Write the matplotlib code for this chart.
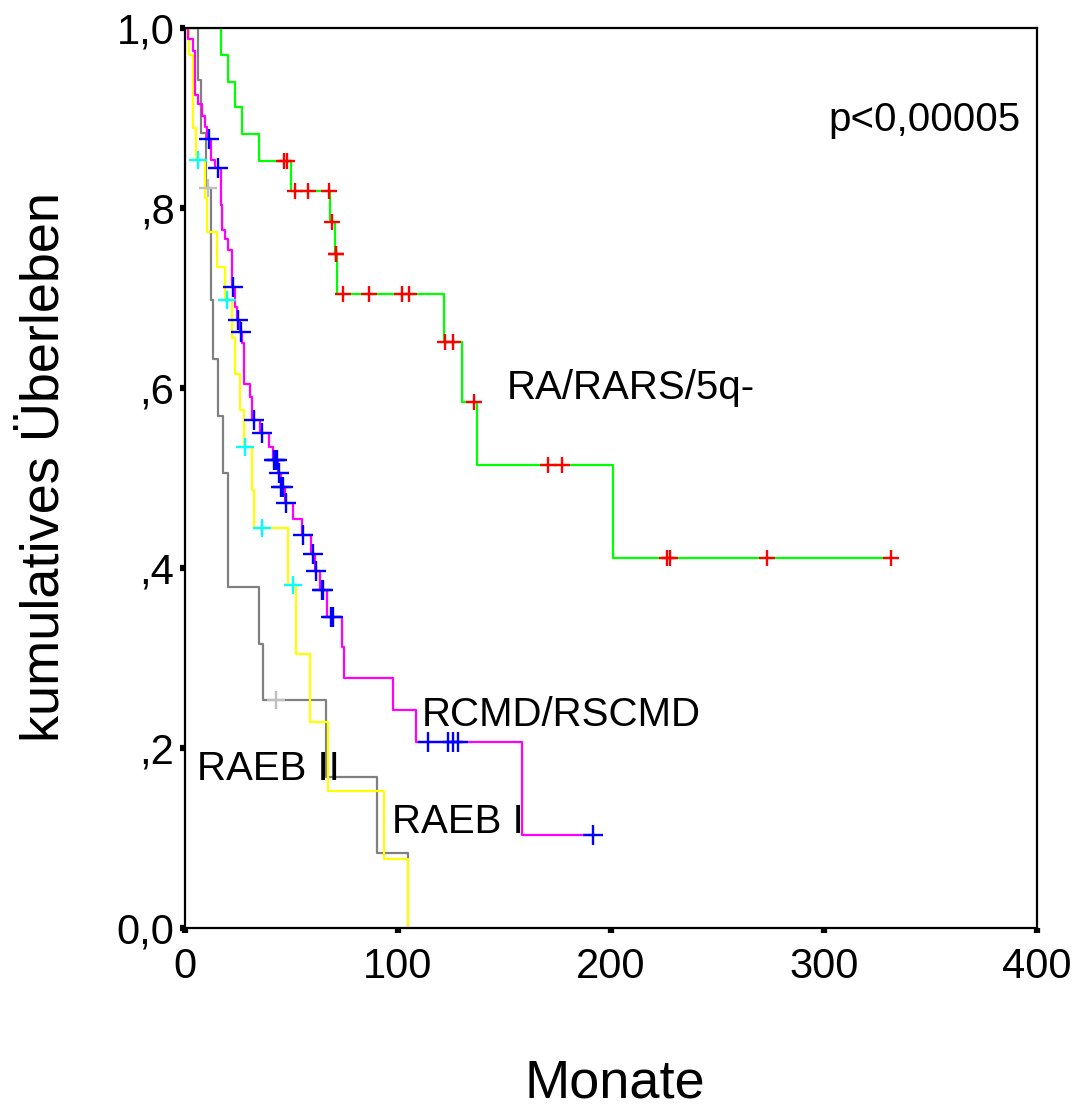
import matplotlib
matplotlib.use('Agg')
import matplotlib.pyplot as plt
import numpy as np

plt.rcParams['font.family'] = ['Liberation Sans', 'DejaVu Sans']

# ---------------------------------------------------------------------------
# Data: step times in months, survival after
# each step, and censoring times
# ---------------------------------------------------------------------------

# RA/RARS/5q-
ra_times = [0, 16.8, 20.3, 23.5, 26.9, 34.9, 49.8, 68.1, 70.4, 71.5,
            121.5, 130.0, 137.0, 200.8]
ra_surv = [1.0, 0.970, 0.940, 0.912, 0.882, 0.8526, 0.819, 0.785, 0.7485,
           0.705, 0.6515, 0.5848, 0.515, 0.4115]
ra_cens = [46.5, 48.0, 51.6, 57.9, 67.8, 68.9, 70.7, 71.0, 74.0, 86.5,
           101.7, 105.3, 122.3, 126.0, 135.7, 170.6, 177.1, 226.1, 227.7,
           273.1, 331.5]

# RCMD/RSCMD
rc_times = [0, 1.6, 3.9, 4.7, 6.3, 7.8, 9.4, 10.2, 12.0, 14.1, 16.8, 17.2,
            18.8, 20.0, 22.2, 23.5, 24.5, 26.0, 26.8, 27.7, 30.5, 31.6, 35.0,
            39.6, 41.5, 43.5, 45.0, 46.8, 50.9, 55.0, 59.0, 61.0, 63.5, 66.5,
            73.9, 74.8, 97.8, 108.5, 158.4]
rc_surv = [1.0, 0.988, 0.974, 0.926, 0.916, 0.902, 0.890, 0.877, 0.853,
           0.845, 0.803, 0.7756, 0.766, 0.753, 0.7125, 0.69, 0.676, 0.662,
           0.650, 0.605, 0.59, 0.564, 0.55, 0.535, 0.52, 0.506, 0.49, 0.472,
           0.455, 0.437, 0.416, 0.397, 0.3755, 0.346, 0.3126, 0.2774, 0.242,
           0.2063, 0.103]
rc_cens = [11.5, 15.6, 22.6, 25.0, 26.4, 32.4, 36.0, 41.8, 42.3, 43.0, 44.1,
           45.3, 45.8, 47.4, 55.5, 60.2, 61.3, 64.3, 64.9, 68.5, 69.3, 113.9,
           123.3, 125.7, 128.3, 191.7]

# RAEB I
r1_times = [0, 2.0, 3.9, 5.2, 9.4, 10.5, 15.2, 18.8, 21.9, 23.5, 25.8, 27.7,
            31.3, 32.4, 48.5, 52.0, 58.7, 67.0, 93.4, 104.9]
r1_surv = [1.0, 0.97, 0.8885, 0.8533, 0.8107, 0.7737, 0.7348, 0.6978, 0.656,
           0.616, 0.5756, 0.5348, 0.4867, 0.444, 0.381, 0.305, 0.2285, 0.152,
           0.0763, 0.0]
r1_cens = [6.3, 19.9, 28.2, 36.0, 50.9]

# RAEB II
r2_times = [0, 6.3, 7.4, 9.8, 12.0, 13.0, 15.6, 17.7, 20.3, 34.9, 36.8, 66.0,
            90.0, 104.9]
r2_surv = [1.0, 0.9426, 0.883, 0.822, 0.698, 0.632, 0.569, 0.506, 0.379,
           0.316, 0.2533, 0.168, 0.0837, 0.0]
r2_cens = [10.9, 42.7]

x_ticks = [0, 100, 200, 300, 400]
y_ticks = [0.0, 0.2, 0.4, 0.6, 0.8, 1.0]
y_tick_labels = ['0,0', ',2', ',4', ',6', ',8', '1,0']


# ---------------------------------------------------------------------------
# Helpers
# ---------------------------------------------------------------------------

def level_at(times, surv, t):
    idx = np.searchsorted(times, t, side='right') - 1
    return np.asarray(surv)[idx]


def draw_km(ax, times, surv, cens, line_color, cens_color, ms=13):
    end = max(times[-1], max(cens))
    xs = list(times) + [end]
    ys = list(surv) + [surv[-1]]
    ax.step(xs, ys, where='post', color=line_color, lw=1.6, zorder=2)
    cy = level_at(times, surv, np.asarray(cens))
    ax.plot(cens, cy, ls='none', marker='+', ms=ms, mew=1.7,
            color=cens_color, zorder=3)


# ---------------------------------------------------------------------------
# Figure
# ---------------------------------------------------------------------------

fig = plt.figure(figsize=(10.83, 11.13), dpi=100)
ax = fig.add_axes([0.1708, 0.1662, 0.7867, 0.8086])

draw_km(ax, r2_times, r2_surv, r2_cens, '#808080', '#c0c0c0')
draw_km(ax, r1_times, r1_surv, r1_cens, '#ffff00', '#00ffff')
draw_km(ax, rc_times, rc_surv, rc_cens, '#ff00ff', '#0000ff', ms=14)
draw_km(ax, ra_times, ra_surv, ra_cens, '#00ff00', '#ff0000', ms=12)

ax.set_xlim(0, 400)
ax.set_ylim(0, 1.0)
ax.set_xticks(x_ticks)
ax.set_xticklabels([str(v) for v in x_ticks])
ax.set_yticks(y_ticks)
ax.set_yticklabels(y_tick_labels)
ax.tick_params(axis='both', direction='out', length=3.5, width=4.5,
               labelsize=30, color='black')
ax.tick_params(axis='y', pad=4)
ax.tick_params(axis='x', pad=10)
for sp in ax.spines.values():
    sp.set_linewidth(1.6)
    sp.set_color('black')

txt = dict(fontsize=29, color='black')
ax.text(301.9, 0.898, 'p<0,00005', ha='left', va='center', **txt)
ax.text(151.2, 0.588, 'RA/RARS/5q-', ha='left', va='baseline', **txt)
ax.text(111.3, 0.2244, 'RCMD/RSCMD', ha='left', va='baseline', **txt)
ax.text(5.5, 0.1644, 'RAEB II', ha='left', va='baseline', **txt)
ax.text(97.0, 0.1059, 'RAEB I', ha='left', va='baseline', **txt)

fig.text(45 / 1083, 1 - 467 / 1113, 'kumulatives Überleben', rotation=90,
         ha='center', va='center', fontsize=39)
fig.text(615 / 1083, 1 - 1083 / 1113, 'Monate', ha='center', va='center',
         fontsize=39)

plt.savefig('out.png', dpi=100)
plt.close()
